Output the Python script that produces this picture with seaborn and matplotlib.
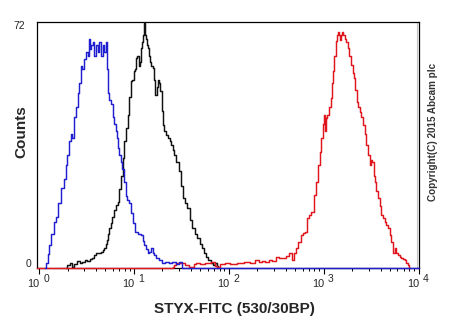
import matplotlib
matplotlib.use("Agg")
import matplotlib.pyplot as plt
from matplotlib.transforms import offset_copy
from matplotlib.ticker import LogLocator, NullFormatter
import numpy as np
import pandas as pd
import seaborn as sns

# Fluorescence channel positions (log10 of FITC intensity) and event counts
unstained_log = [0.06, 0.08, 0.10, 0.116, 0.14, 0.17, 0.19, 0.22, 0.25, 0.27, 0.29, 0.31,
                 0.327, 0.345, 0.36, 0.38, 0.398, 0.415, 0.433, 0.45, 0.465, 0.486, 0.503,
                 0.52, 0.531, 0.545, 0.556, 0.573, 0.59, 0.609, 0.626, 0.644, 0.662, 0.679,
                 0.697, 0.714, 0.722, 0.731, 0.75, 0.767, 0.785, 0.802, 0.815, 0.827, 0.84,
                 0.855, 0.87, 0.89, 0.905, 0.925, 0.94, 0.96, 0.98, 1.00, 1.03, 1.06, 1.083,
                 1.10, 1.119, 1.135, 1.154, 1.17, 1.19, 1.205, 1.224, 1.25, 1.277, 1.31,
                 1.35, 1.38, 1.42, 1.46, 1.50, 1.52, 4.00]
unstained_counts = [0, 1.5, 4, 6.7, 10, 13.5, 15, 19, 23.4, 26, 30, 33,
                    37, 39, 38, 44, 47, 51, 54, 59, 58, 61, 63,
                    62, 67, 64, 65, 66, 62, 65, 63, 66, 62, 65,
                    63, 66, 58, 51, 49, 48, 44, 42, 40, 38, 35,
                    33, 31, 29, 25, 21, 20, 19, 16, 13, 10.5, 10, 9.6,
                    8, 6.7, 5.5, 4.4, 4.8, 5.8, 4.5, 3.8, 3, 2.3, 1.5,
                    1.8, 1.5, 1.8, 1.2, 1.8, 0, 0]

isotype_log = [0.28, 0.31, 0.334, 0.36, 0.38, 0.415, 0.44, 0.468, 0.50, 0.52, 0.55, 0.573,
               0.59, 0.609, 0.635, 0.662, 0.68, 0.697, 0.71, 0.72, 0.735, 0.749, 0.765,
               0.784, 0.80, 0.82, 0.837, 0.855, 0.872, 0.89, 0.908, 0.925, 0.943, 0.96,
               0.978, 0.99, 1.003, 1.015, 1.031, 1.045, 1.055, 1.066, 1.083, 1.095, 1.10,
               1.111, 1.12, 1.129, 1.14, 1.154, 1.165, 1.179, 1.19, 1.207, 1.22, 1.235,
               1.25, 1.26, 1.272, 1.284, 1.30, 1.312, 1.33, 1.348, 1.37, 1.385, 1.40, 1.42,
               1.435, 1.46, 1.488, 1.505, 1.523, 1.55, 1.576, 1.60, 1.628, 1.655, 1.681,
               1.71, 1.734, 1.75, 1.77, 1.80, 1.823, 1.85, 1.865, 1.88, 1.89]
isotype_counts = [0, 1, 1.5, 0.4, 1.2, 2, 1.6, 1.8, 2.2, 2, 2.5, 2.8,
                  3.8, 4.3, 4.5, 4.8, 5.2, 5.8, 7, 8.2, 10, 11.6, 13,
                  15, 17, 18.4, 19.4, 23, 27, 32, 37, 41, 44.7, 50,
                  54.5, 55, 57.4, 58, 61.3, 62, 59, 60.3, 64.2, 66, 68,
                  71.5, 68, 67, 65, 64.2, 62, 60.3, 59, 58.4, 55, 50.6,
                  53, 55, 54, 51.6, 46, 41.8, 40, 38.9, 38, 37, 36, 34.5,
                  33, 31, 28.2, 24, 20.4, 19, 17.5, 14, 11.6, 10, 8.7,
                  7, 5.8, 4.5, 3.3, 2.2, 1.4, 0.8, 1.5, 0.5, 0]

styx_log = [-0.02, 1.40, 1.417, 1.435, 1.453, 1.52, 1.56, 1.60, 1.625, 1.645, 1.664, 1.72,
            1.78, 1.84, 1.87, 1.89, 1.93, 1.98, 2.05, 2.12, 2.19, 2.25, 2.30, 2.33, 2.37,
            2.40, 2.44, 2.48, 2.51, 2.55, 2.58, 2.62, 2.65, 2.68, 2.70, 2.72, 2.745, 2.77,
            2.79, 2.81, 2.84, 2.86, 2.88, 2.91, 2.93, 2.95, 2.965, 2.98, 3.00, 3.01, 3.02,
            3.03, 3.05, 3.065, 3.08, 3.095, 3.106, 3.12, 3.135, 3.15, 3.16, 3.17, 3.177,
            3.19, 3.20, 3.215, 3.23, 3.245, 3.264, 3.28, 3.30, 3.31, 3.325, 3.34, 3.353,
            3.37, 3.388, 3.405, 3.423, 3.44, 3.458, 3.475, 3.494, 3.51, 3.52, 3.535, 3.546,
            3.565, 3.58, 3.60, 3.617, 3.635, 3.652, 3.67, 3.687, 3.705, 3.722, 3.73, 3.74,
            3.757, 3.775, 3.79, 3.81, 3.828, 3.845, 3.863, 3.88, 3.898, 3.91]
styx_counts = [0, 0, 0.4, 1, 1.4, 1.4, 0.8, 0.4, 0.4, 1.2, 1.4, 1.2,
               1.6, 1.7, 0.6, 0.4, 1.2, 1.4, 1.2, 1.4, 1.8, 1.5, 2.3, 1.8, 2.0,
               1.8, 2.3, 2.0, 3.3, 2.8, 2.8, 3.6, 4.3, 2.3, 4.5, 5.8, 7.5, 9.6,
               10.2, 10.6, 14.5, 15.5, 16.5, 21.3, 25, 30, 34, 37.9, 42, 44.7, 40,
               43.8, 44.7, 47, 49.6, 54, 57.4, 62, 66.2, 68, 69, 68, 66.7,
               68, 69, 68, 67, 66, 64.2, 62, 59.4, 57, 55.5, 52, 48.6,
               47, 45.7, 44, 41.8, 39, 36, 33, 30, 31.5, 31, 27, 25.2,
               22.5, 20.4, 18, 15.5, 14.5, 13.5, 12.5, 11.6, 9.5, 7.7, 5.5, 4.3,
               5.8, 4.5, 3.8, 3.2, 2.8, 2.6, 2.3, 1.4, 0.9, 0]

decades = [0, 1, 2, 3, 4]
count_ticks = [0, 72]

frames = []
for name, lg, ct in [("isotype", isotype_log, isotype_counts),
                     ("STYX", styx_log, styx_counts),
                     ("unstained", unstained_log, unstained_counts)]:
    frames.append(pd.DataFrame({"fitc": 10.0 ** np.asarray(lg),
                                "counts": ct, "sample": name}))
df = pd.concat(frames, ignore_index=True)

sns.set_style("white")
plt.rcParams["font.family"] = ["Liberation Sans", "DejaVu Sans"]

W, H = 450, 330
fig = plt.figure(figsize=(W / 100, H / 100), dpi=100)
ax_left, ax_right, ax_top, ax_bottom = 37, 418.5, 21.5, 268
ax = fig.add_axes([ax_left / W, 1 - ax_bottom / H,
                   (ax_right - ax_left) / W, (ax_bottom - ax_top) / H])

palette = {"isotype": "#111111", "STYX": "#e0161c", "unstained": "#1f1fcf"}
sns.lineplot(data=df, x="fitc", y="counts", hue="sample",
             hue_order=["isotype", "STYX", "unstained"], palette=palette,
             estimator=None, sort=False, legend=False, linewidth=1.05,
             drawstyle="steps-mid", clip_on=False, zorder=3, ax=ax)

ax.set_xscale("log")
ax.set_xlim(10 ** -0.021, 10 ** 4.0)
ax.set_ylim(count_ticks[0], count_ticks[-1])
ax.set_xlabel("")
ax.set_ylabel("")

# faint inner edge line near the right border
ax.axvline(10 ** 3.984, color="#c4c4c4", lw=0.8, zorder=1)

for side in ["left", "right", "top", "bottom"]:
    ax.spines[side].set_visible(True)
    ax.spines[side].set_color("black")
    ax.spines[side].set_linewidth(0.9)

ax.xaxis.set_major_locator(LogLocator(base=10, numticks=10))
ax.xaxis.set_minor_locator(LogLocator(base=10, subs=np.arange(2, 10), numticks=20))
ax.xaxis.set_major_formatter(NullFormatter())
ax.xaxis.set_minor_formatter(NullFormatter())
ax.tick_params(axis="x", which="major", direction="out", length=4.3, width=0.8,
               color="black", bottom=True, top=False)
ax.tick_params(axis="x", which="minor", direction="out", length=2.2, width=0.7,
               color="black", bottom=True, top=False)
ax.set_yticks([])

# decade labels: "10" with a raised exponent
xt = ax.get_xaxis_transform()
for d in decades:
    ax.text(10.0 ** d, 0, "10", fontsize=7.8, ha="right", va="center",
            transform=offset_copy(xt, fig=fig, x=0.5, y=-16, units="dots"))
    ax.text(10.0 ** d, 0, str(d), fontsize=7.5, ha="left", va="center",
            transform=offset_copy(xt, fig=fig, x=4.5, y=-10.5, units="dots"))

# count labels at the ends of the axis
yt = ax.get_yaxis_transform()
ax.text(0, count_ticks[-1], str(count_ticks[-1]), fontsize=7.5, ha="right", va="center",
        transform=offset_copy(yt, fig=fig, x=-12, y=-4.5, units="dots"))
ax.text(0, count_ticks[0], str(count_ticks[0]), fontsize=7.5, ha="right", va="center",
        transform=offset_copy(yt, fig=fig, x=-6, y=4, units="dots"))

fig.text(21 / W, 1 - 131.5 / H, "Counts", rotation=90, ha="center", va="center",
         fontsize=11, fontweight="bold")
fig.text(234 / W, 1 - 309.5 / H, "STYX-FITC (530/30BP)", ha="center", va="center",
         fontsize=11, fontweight="bold")
fig.text(433 / W, 1 - 131.5 / H, "Copyright(C) 2015 Abcam plc", rotation=90,
         ha="center", va="center", fontsize=7.1, fontweight="bold", color="#333333")

fig.savefig("out.png", dpi=100, facecolor="white")
